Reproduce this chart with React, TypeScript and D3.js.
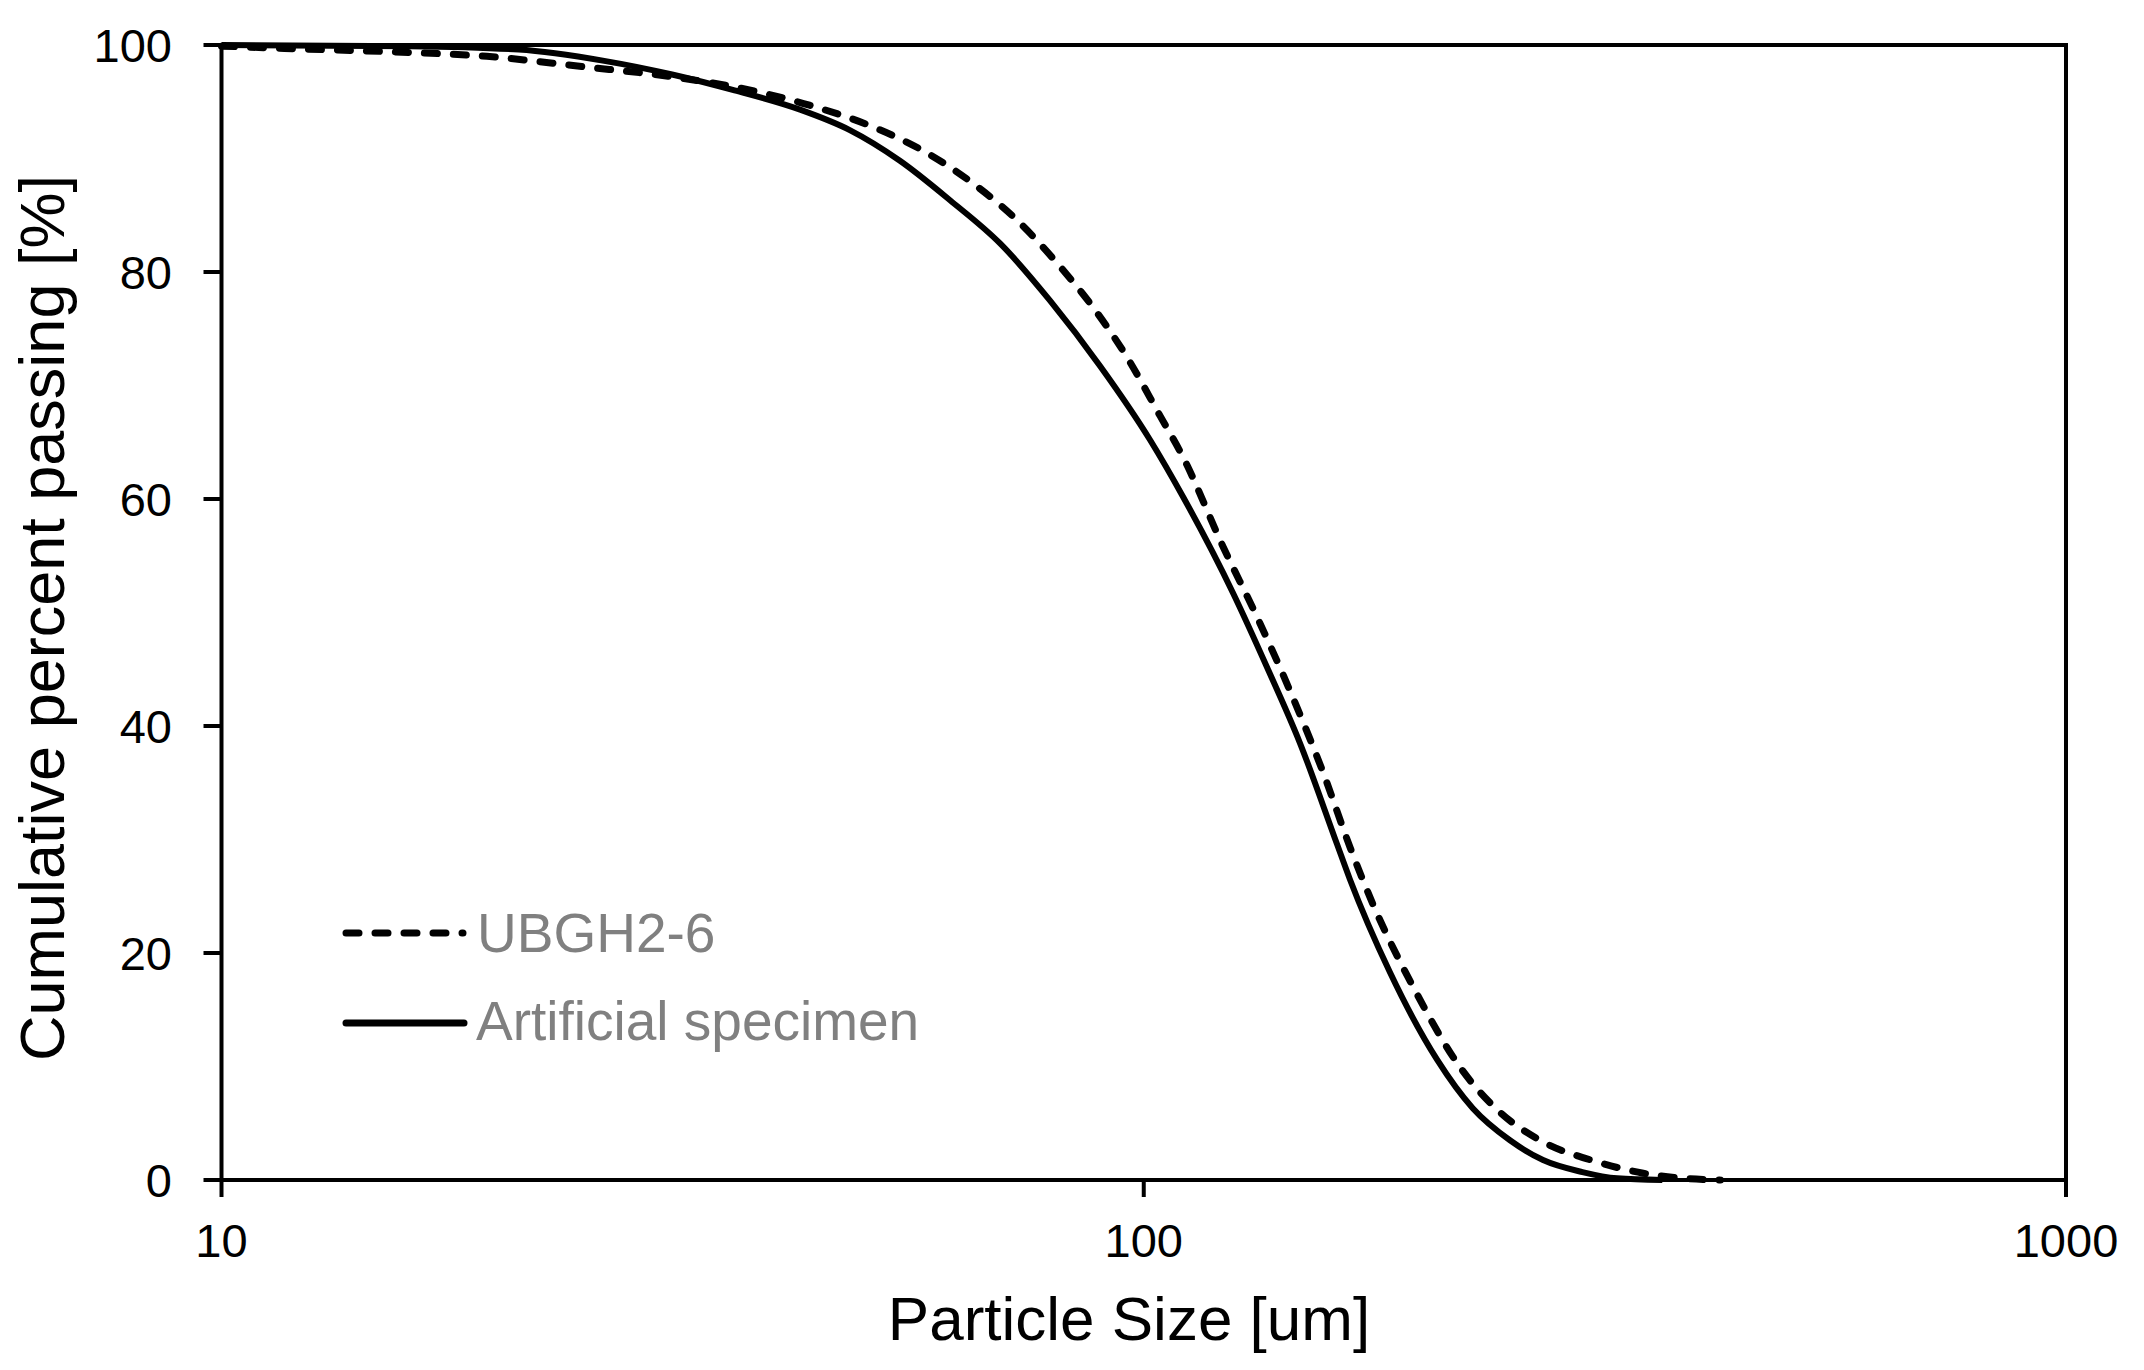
import React from "react";
import * as d3 from "d3";

// Particle size [um]
const artificialSize = [10, 16, 21, 26, 30.8, 36, 42.4, 48, 54.4, 61.7, 69.9, 79.1, 89.7, 101.6, 110.3, 125, 136, 147.7, 162, 167.3, 184.9, 208, 227.5, 249.5, 271, 299, 326, 365];
// Cumulative percent passing [%]
const artificialPass = [100, 99.9, 99.6, 98.6, 97.4, 96.0, 94.3, 92.5, 89.8, 86.3, 82.5, 77.5, 71.7, 65.2, 60.2, 51.7, 45.2, 38.5, 29.6, 26.5, 18.3, 10.6, 6.3, 3.5, 1.76, 0.7, 0.15, 0];

const ubghSize = [10, 11.7, 15.3, 19.4, 24.6, 30.8, 38.5, 43.4, 50.8, 57.6, 65.3, 72.8, 81.1, 88.1, 95.9, 104.2, 110.3, 121.9, 132.7, 143.9, 156.5, 167.4, 177, 196, 220, 241.6, 269, 310, 348, 384, 422];
const ubghPass = [99.9, 99.7, 99.4, 99.0, 98.1, 97.2, 95.8, 94.7, 92.8, 90.7, 87.8, 84.6, 80.5, 76.9, 72.5, 67.3, 63.7, 55.8, 49.6, 43.2, 35.9, 29.3, 24.4, 17.0, 10.0, 6.2, 3.5, 1.6, 0.6, 0.15, 0];

const xTicks = [10, 100, 1000];
const yTicks = [0, 20, 40, 60, 80, 100];

const seriesNames = ["UBGH2-6", "Artificial specimen"];

const W = 2144;
const H = 1370;
const M = { left: 221.5, right: 2066, top: 45, bottom: 1180 };
const FONT = "'Liberation Sans', Arial, sans-serif";

export default function App() {
  const x = d3.scaleLog().domain([10, 1000]).range([M.left, M.right]);
  const y = d3.scaleLinear().domain([0, 100]).range([M.bottom, M.top]);

  const line = d3
    .line<[number, number]>()
    .x((d) => x(d[0]))
    .y((d) => y(d[1]))
    .curve(d3.curveMonotoneX);

  const artPts: [number, number][] = artificialSize.map((s, i) => [s, artificialPass[i]]);
  const ubghPts: [number, number][] = ubghSize.map((s, i) => [s, ubghPass[i]]);

  return (
    <svg
      width={W}
      height={H}
      style={{ position: "absolute", left: 0, top: 0, background: "#fff" }}
      fontFamily={FONT}
    >
      <rect x={0} y={0} width={W} height={H} fill="#fff" />
      {/* curves */}
      <path
        d={line(ubghPts) || ""}
        fill="none"
        stroke="#000"
        strokeWidth={7}
        strokeDasharray="13 16"
        strokeLinecap="round"
      />
      <path d={line(artPts) || ""} fill="none" stroke="#000" strokeWidth={6} />

      {/* frame */}
      <rect
        x={M.left}
        y={M.top}
        width={M.right - M.left}
        height={M.bottom - M.top}
        fill="none"
        stroke="#000"
        strokeWidth={4}
      />

      {/* y ticks */}
      {yTicks.map((t) => (
        <g key={"y" + t}>
          <line x1={M.left - 18} x2={M.left} y1={y(t)} y2={y(t)} stroke="#000" strokeWidth={4} />
          <text x={172} y={y(t) + 17} textAnchor="end" fontSize={47} fill="#000">
            {t}
          </text>
        </g>
      ))}

      {/* x ticks */}
      {xTicks.map((t) => (
        <g key={"x" + t}>
          <line x1={x(t)} x2={x(t)} y1={M.bottom} y2={M.bottom + 17} stroke="#000" strokeWidth={4} />
          <text x={x(t)} y={1257} textAnchor="middle" fontSize={47} fill="#000">
            {t}
          </text>
        </g>
      ))}

      {/* axis titles */}
      <text x={1129} y={1340} textAnchor="middle" fontSize={62} fill="#000">
        Particle Size [um]
      </text>
      <text
        transform={`translate(64, 618) rotate(-90)`}
        textAnchor="middle"
        fontSize={63}
        fill="#000"
      >
        Cumulative percent passing [%]
      </text>

      {/* legend */}
      <line
        x1={346}
        x2={463}
        y1={933}
        y2={933}
        stroke="#000"
        strokeWidth={7}
        strokeDasharray="13 16"
        strokeLinecap="round"
      />
      <text x={477} y={952} fontSize={55} fill="#808080">
        {seriesNames[0]}
      </text>
      <line x1={346} x2={464} y1={1023} y2={1023} stroke="#000" strokeWidth={7} strokeLinecap="round" />
      <text x={476} y={1040} fontSize={55} fill="#808080">
        {seriesNames[1]}
      </text>
    </svg>
  );
}
